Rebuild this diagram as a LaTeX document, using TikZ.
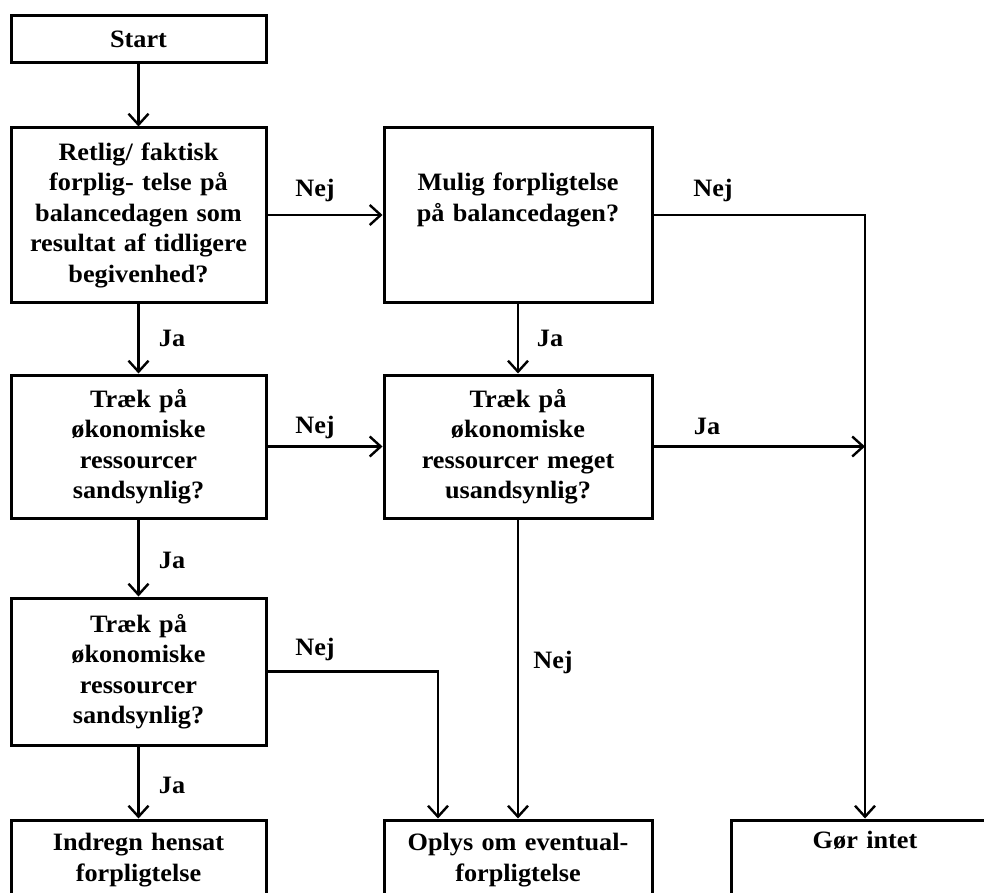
\documentclass[tikz,border=0pt]{standalone}
\usepackage{fontspec}
\setmainfont{Liberation Serif}[FakeStretch=1.05]
\usetikzlibrary{arrows.meta}

\tikzset{
  box/.style={draw, line width=3pt, rectangle, align=center, inner sep=4pt},
  col1/.style={minimum width=255pt, text width=235pt},
  col2/.style={minimum width=268pt, text width=248pt},
  conn/.style={line width=2.4pt},
  arr/.style={conn, -{Straight Barb[length=11pt,width=20pt]}},
  lbl/.style={inner sep=0pt},
}

\begin{document}
\begin{tikzpicture}[x=1pt, y=-1pt, font=\fontsize{25}{30.5}\selectfont\bfseries]
    \useasboundingbox (0,0) rectangle (984,893);
    \clip (0,0) rectangle (984,893);

    % Left column
    \node[box, col1, minimum height=47pt] (start) at (138.5, 39.5) {Start};
    \node[box, col1, minimum height=174pt] (retlig) at (138.5, 215) {Retlig/ faktisk\\forplig- telse på\\balancedagen som\\resultat af tidligere\\begivenhed?};
    \node[box, col1, minimum height=143pt] (traek1) at (138.5, 446.5) {Træk på\\økonomiske\\ressourcer\\sandsynlig?};
    \node[box, col1, minimum height=147pt] (traek3) at (138.5, 671.5) {Træk på\\økonomiske\\ressourcer\\sandsynlig?};
    \node[box, col1, minimum height=80pt] (indregn) at (138.5, 860) {Indregn hensat\\forpligtelse};

    % Middle column
    \node[box, col2, minimum height=174pt] (mulig) at (518, 215) {\strut\\Mulig forpligtelse\\på balancedagen?\\\strut\\\strut};
    \node[box, col2, minimum height=143pt] (traek2) at (518, 446.5) {Træk på\\økonomiske\\ressourcer meget\\usandsynlig?};
    \node[box, col2, minimum height=80pt] (oplys) at (518, 860) {Oplys om eventual-\\forpligtelse};

    % Right column
    \node[box, col2, minimum height=80pt] (gor) at (865, 860) {Gør intet\\\strut};

    % Connectors
    \draw[arr] (start) -- (retlig);
    \draw[arr] (retlig) -- (mulig);
    \draw[arr] (mulig) -| (gor);
    \draw[arr] (retlig) -- (traek1);
    \draw[arr] (mulig) -- (traek2);
    \draw[arr] (traek1) -- (traek2);
    \coordinate (join) at (traek2.east -| gor.north);
    \draw[arr] (traek2) -- (join);
    \draw[arr] (traek1) -- (traek3);
    \draw[arr] (traek3) -| ([xshift=-80pt]oplys.north);
    \draw[arr] (traek2) -- (oplys);
    \draw[arr] (traek3) -- (indregn);

    % Labels
    \node[lbl] (nej1) at (315, 190) {Nej};
    \node[lbl] (nej2) at (713, 190) {Nej};
    \node[lbl] (ja1) at (172, 338) {Ja};
    \node[lbl] (ja2) at (550, 338) {Ja};
    \node[lbl] (nej3) at (315, 427) {Nej};
    \node[lbl] (ja3) at (707, 426) {Ja};
    \node[lbl] (ja4) at (172, 560) {Ja};
    \node[lbl] (nej4) at (315, 649) {Nej};
    \node[lbl] (nej5) at (553, 662) {Nej};
    \node[lbl] (ja5) at (172, 785) {Ja};
\end{tikzpicture}
\end{document}
